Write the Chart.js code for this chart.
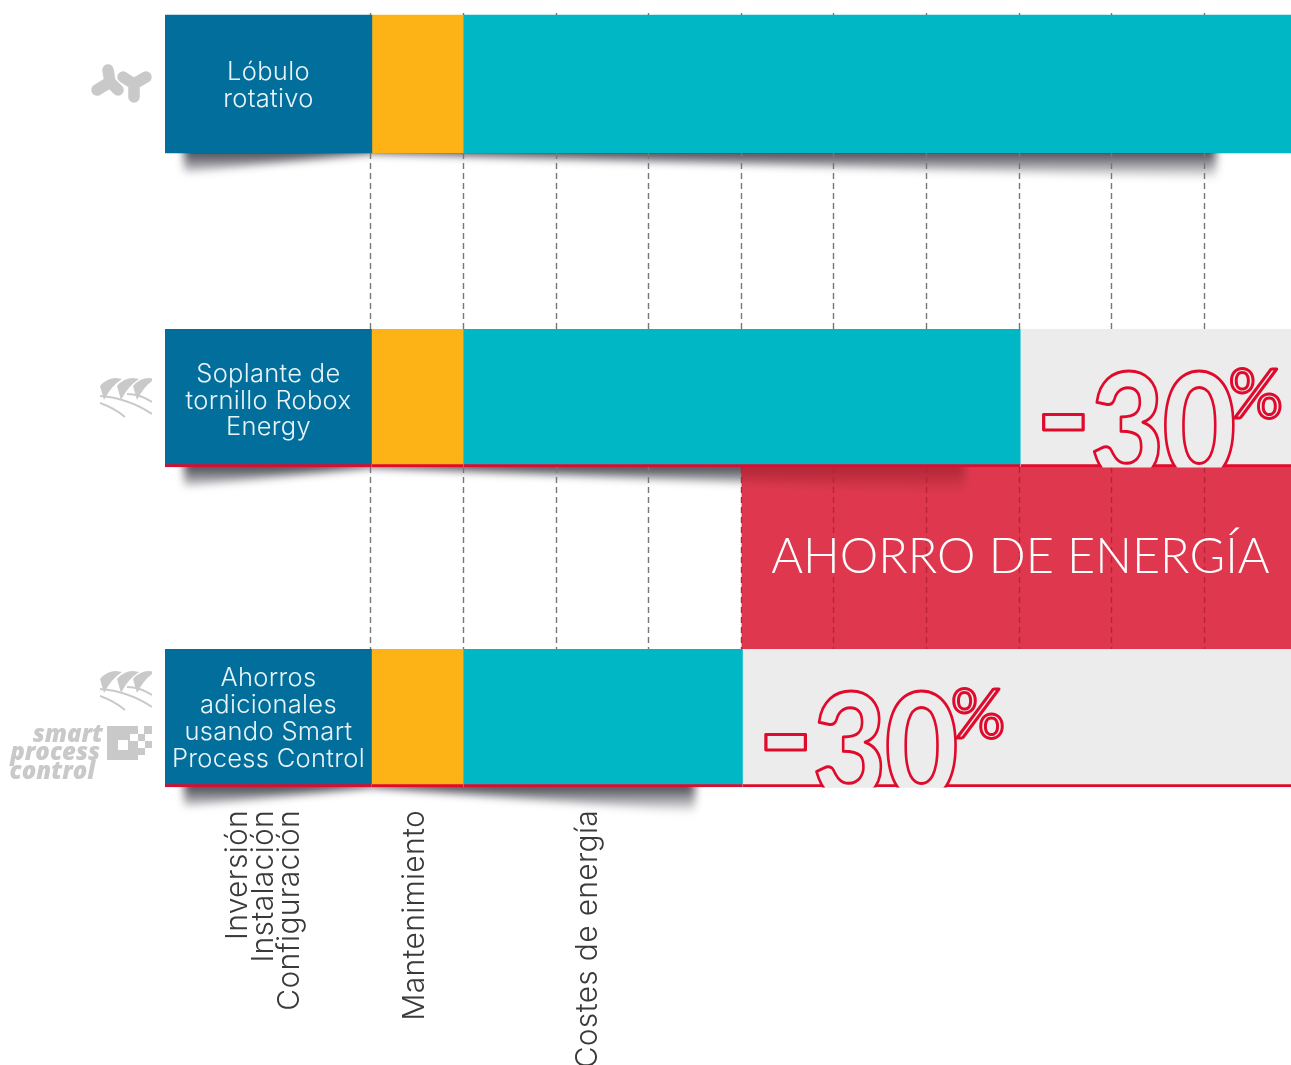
<!DOCTYPE html>
<html>
<head>
<meta charset="utf-8">
<title>Ahorro de energía</title>
<script src="https://cdn.jsdelivr.net/npm/chart.js@4"></script>
<style>
  html, body { margin: 0; padding: 0; background: #fff; overflow: hidden; }
  canvas { display: block; }
</style>
</head>
<body>
<canvas id="myChart" width="1291" height="1065"></canvas>
<script>
// Data (share of lifetime cost, one grid step = 10)
const categories = [
  ["Lóbulo", "rotativo"],
  ["Soplante de", "tornillo Robox", "Energy"],
  ["Ahorros", "adicionales", "usando Smart", "Process Control"],
];
const investment = [22.34, 22.34, 22.34];
const maintenance = [9.86, 9.86, 9.86];
const energy = [89.4, 60.2, 30.2];
const saved = [0, 29.2, 59.2];
const savingBand = [62.3, 121.6];
const gridTicks = [22.3, 32.3, 42.3, 52.3, 62.3, 72.3, 82.3, 92.3, 102.3, 112.3];
const costLabels = [["Inversión", "Instalación", "Configuración"], ["Mantenimiento"], ["Costes de energía"]];
const savingLabel = "AHORRO DE ENERGÍA";

// Layout, in pixels of the y scale
const rowCentre = [84, 398, 718];
const rowNameShift = [2, 3, 1];
const rowHeight = 138;
const bandCentre = 558;
const bandHeight = 182;
const shadowEnd = [1226, 975, 705];
const textFont = "Inter, sans-serif";

const BLUE = "#016e9c";
const ORANGE = "#fdb316";
const TEAL = "#00b8c5";
const GREY = "#ececec";
const BAND = "#df384e";
const RED = "#df0a2c";
const ICON = "#c9c9c9";

// Build the floating bars from the segment lengths
function segment(from, length) {
  return rowCentre.map((y, i) => ({ y: y, x: [from[i], from[i] + length[i]] }));
}
const startMaintenance = investment;
const startEnergy = investment.map((v, i) => v + maintenance[i]);
const startSaved = startEnergy.map((v, i) => v + energy[i]);

function barDataset(label, data, color) {
  return {
    label: label,
    data: data,
    backgroundColor: color,
    grouped: false,
    barThickness: rowHeight,
    borderSkipped: false,
    borderColor: RED,
    // only the two improved rows have the red line at the bottom
    borderWidth: (ctx) => ({ top: 0, left: 0, right: 0, bottom: ctx.dataIndex > 0 ? 3 : 0 }),
  };
}

// Draw one rotated cost label per column below the last bar
function drawCostLabels(ctx) {
  const columns = [[247, 273, 299], [424], [597]];
  ctx.save();
  ctx.fillStyle = "#3a3a3a";
  ctx.font = "300 30px " + textFont;
  ctx.letterSpacing = "0.3px";
  ctx.textAlign = "right";
  ctx.textBaseline = "alphabetic";
  costLabels.forEach((lines, c) => {
    lines.forEach((line, l) => {
      ctx.save();
      ctx.translate(columns[c][l], 810);
      ctx.rotate(-Math.PI / 2);
      ctx.fillText(line, 0, 0);
      ctx.restore();
    });
  });
  ctx.restore();
}

// Tapered shadows under each bar
function shadowShape(ctx, points) {
  ctx.beginPath();
  points.forEach((p, i) => (i ? ctx.lineTo(p[0], p[1]) : ctx.moveTo(p[0], p[1])));
  ctx.closePath();
  ctx.fill();
}

function drawShadow(ctx, bottom, endX, splitX, chartW) {
  const pieces = (dark) => {
    const gradient = ctx.createLinearGradient(0, bottom, 0, bottom + 26);
    gradient.addColorStop(0, dark);
    gradient.addColorStop(1, "#ffffff");
    ctx.fillStyle = gradient;
    ctx.filter = "blur(4px)";
    shadowShape(ctx, [[184, bottom - 8], [372, bottom - 8], [372, bottom], [187, bottom + 19], [184, bottom + 17]]);
    shadowShape(ctx, [[372, bottom], [372, bottom - 8], [endX - 10, bottom - 8], [endX - 10, bottom + 25]]);
    ctx.filter = "none";
  };
  ctx.save();
  ctx.globalCompositeOperation = "multiply";
  ctx.save();
  ctx.beginPath();
  ctx.rect(0, bottom, splitX, 40);
  ctx.clip();
  pieces("#50505a");
  ctx.restore();
  if (splitX < chartW) {
    ctx.save();
    ctx.beginPath();
    ctx.rect(splitX, bottom, chartW - splitX, 40);
    ctx.clip();
    pieces("#c9b4b6");
    ctx.restore();
  }
  ctx.restore();
}

// Outlined -30% cut off by the bottom of the bar
function drawMinus30(ctx, left, bottom) {
  ctx.save();
  ctx.beginPath();
  ctx.rect(left, bottom - 130, 1291 - left, 130.5);
  ctx.clip();
  ctx.fillStyle = GREY;
  ctx.strokeStyle = RED;
  ctx.lineWidth = 3;
  ctx.lineJoin = "round";
  ctx.textBaseline = "alphabetic";
  ctx.textAlign = "left";

  ctx.save();
  ctx.translate(left + 70, bottom + 12);
  ctx.scale(0.87, 1);
  ctx.font = "900 146px Lato, sans-serif";
  ctx.letterSpacing = "-2px";
  ctx.fillText("30", 0, 0);
  ctx.strokeText("30", 0, 0);
  ctx.restore();

  ctx.save();
  ctx.translate(left + 15, bottom - 47);
  ctx.scale(3.4, 3.1);
  ctx.font = "900 44px Lato, sans-serif";
  ctx.lineWidth = 0.95;
  ctx.textBaseline = "middle";
  ctx.fillText("-", 0, 0);
  ctx.strokeText("-", 0, 0);
  ctx.restore();

  ctx.font = "400 68px Lato, sans-serif";
  ctx.fillText("%", left + 208, bottom - 49);
  ctx.strokeText("%", left + 208, bottom - 49);
  ctx.restore();
}

// Grey lobe and screw pictograms to the left of the bars
function drawLobes(ctx) {
  ctx.save();
  ctx.strokeStyle = ICON;
  ctx.lineWidth = 11.5;
  ctx.lineCap = "round";
  ctx.lineJoin = "round";
  [[110, 82, 108, 70, 97, 90, 118, 90], [134, 84, 123, 77, 146, 77, 134, 97]].forEach((l) => {
    ctx.beginPath();
    for (let i = 2; i < 8; i += 2) {
      ctx.moveTo(l[0], l[1]);
      ctx.lineTo(l[i], l[i + 1]);
    }
    ctx.stroke();
  });
  ctx.restore();
}

function drawScrew(ctx, x, y) {
  ctx.save();
  ctx.translate(x, y);
  ctx.beginPath();
  ctx.rect(0, -1, 52, 42);
  ctx.clip();
  ctx.fillStyle = ICON;
  ctx.strokeStyle = ICON;
  ctx.lineWidth = 2;
  [0, 17, 33].forEach((dx) => {
    ctx.beginPath();
    ctx.moveTo(dx, 8);
    ctx.quadraticCurveTo(dx + 7, 0, dx + 16, 0);
    ctx.lineTo(dx + 22, 1);
    ctx.quadraticCurveTo(dx + 11, 8, dx + 4, 22);
    ctx.closePath();
    ctx.fill();
  });
  ctx.beginPath();
  ctx.moveTo(0, 18);
  ctx.quadraticCurveTo(28, 20, 52, 36);
  ctx.moveTo(0, 25);
  ctx.quadraticCurveTo(14, 30, 25, 39);
  ctx.moveTo(27, 16);
  ctx.quadraticCurveTo(40, 16, 52, 24);
  ctx.stroke();
  ctx.restore();
}

function drawSmartLogo(ctx) {
  ctx.save();
  ctx.fillStyle = ICON;
  ctx.font = "italic 800 24px 'Open Sans', sans-serif";
  ctx.textAlign = "right";
  ctx.fillText("smart", 103, 742);
  ctx.fillText("process", 100, 760);
  ctx.fillText("control", 95, 779);
  ctx.fillRect(107, 726, 23, 34);
  ctx.fillRect(130, 726, 8, 8);
  ctx.fillRect(144, 726, 8, 8);
  ctx.fillRect(138, 734, 7, 7);
  ctx.fillRect(130, 741, 8, 19);
  ctx.fillRect(145, 741, 7, 7);
  ctx.fillRect(138, 748, 7, 7);
  ctx.fillStyle = "#fff";
  ctx.fillRect(118, 740, 10, 10);
  ctx.restore();
}

const decorations = {
  id: "decorations",
  afterDatasetsDraw(chart) {
    const ctx = chart.ctx;
    const xScale = chart.scales.x;
    const yScale = chart.scales.y;
    const bottoms = rowCentre.map((c) => yScale.getPixelForValue(c + rowHeight / 2));
    const tops = rowCentre.map((c) => yScale.getPixelForValue(c - rowHeight / 2));
    const bandLeft = xScale.getPixelForValue(savingBand[0]);

    // shadows first so the dashes stay on top of them
    bottoms.forEach((bottom, i) => {
      drawShadow(ctx, bottom, shadowEnd[i], i === 1 ? bandLeft : 1291, 1291);
    });

    // dashed grid, only in the gaps between the bars
    ctx.save();
    ctx.setLineDash([6, 4]);
    ctx.lineWidth = 1.4;
    gridTicks.forEach((tick) => {
      const x = Math.round(xScale.getPixelForValue(tick)) - 0.5;
      const spans = [[bottoms[0], tops[1]], [bottoms[1], tops[2]], [tops[0] - 2, tops[0]]];
      spans.forEach((s, i) => {
        ctx.strokeStyle = i === 1 && x >= bandLeft - 1 ? "#bb2239" : "#777777";
        ctx.beginPath();
        ctx.moveTo(x, s[0]);
        ctx.lineTo(x, s[1]);
        ctx.stroke();
      });
    });
    ctx.restore();

    // names inside the blue bars
    ctx.save();
    ctx.fillStyle = "#eaf4f8";
    ctx.font = "300 25.5px " + textFont;
    ctx.letterSpacing = "0.3px";
    ctx.textAlign = "center";
    ctx.textBaseline = "middle";
    const nameX = xScale.getPixelForValue(investment[0] / 2);
    categories.forEach((lines, i) => {
      const first = yScale.getPixelForValue(rowCentre[i]) - ((lines.length - 1) * 26.8) / 2 + rowNameShift[i];
      lines.forEach((line, l) => ctx.fillText(line, nameX, first + l * 26.8));
    });
    ctx.restore();

    // savings band text
    ctx.save();
    ctx.fillStyle = "#ffffff";
    ctx.font = "300 48.6px Lato, sans-serif";
    ctx.textAlign = "center";
    ctx.fillText(savingLabel, xScale.getPixelForValue((savingBand[0] + savingBand[1]) / 2) + 4, 573);
    ctx.restore();

    // outlined savings on the two improved rows
    drawMinus30(ctx, xScale.getPixelForValue(startSaved[1]), bottoms[1]);
    drawMinus30(ctx, xScale.getPixelForValue(startSaved[2]), bottoms[2]);

    drawCostLabels(ctx);
    drawLobes(ctx);
    drawScrew(ctx, 100, 378);
    drawScrew(ctx, 100, 671);
    drawSmartLogo(ctx);
  },
};

const chartContext = document.getElementById("myChart").getContext("2d");

const chart = new Chart(chartContext, {
  type: "bar",
  plugins: [decorations],
  data: {
    datasets: [
      barDataset("Inversión", segment(investment.map(() => 0), investment), BLUE),
      barDataset("Mantenimiento", segment(startMaintenance, maintenance), ORANGE),
      barDataset("Costes de energía", segment(startEnergy, energy), TEAL),
      barDataset("Ahorro", segment(startSaved, saved), GREY),
      {
        label: savingLabel,
        data: [{ y: bandCentre, x: savingBand }],
        backgroundColor: BAND,
        grouped: false,
        barThickness: bandHeight,
      },
    ],
  },
  options: {
    indexAxis: "y",
    responsive: false,
    animation: false,
    layout: { padding: { left: 165 } },
    plugins: { legend: { display: false }, tooltip: { enabled: false } },
    scales: {
      x: { type: "linear", display: false, min: 0, max: 121.6 },
      // bar charts turn offset on for the index axis, the row centres are exact here
      y: { type: "linear", display: false, reverse: true, min: 0, max: 1065, offset: false },
    },
  },
});
</script>
</body>
</html>
